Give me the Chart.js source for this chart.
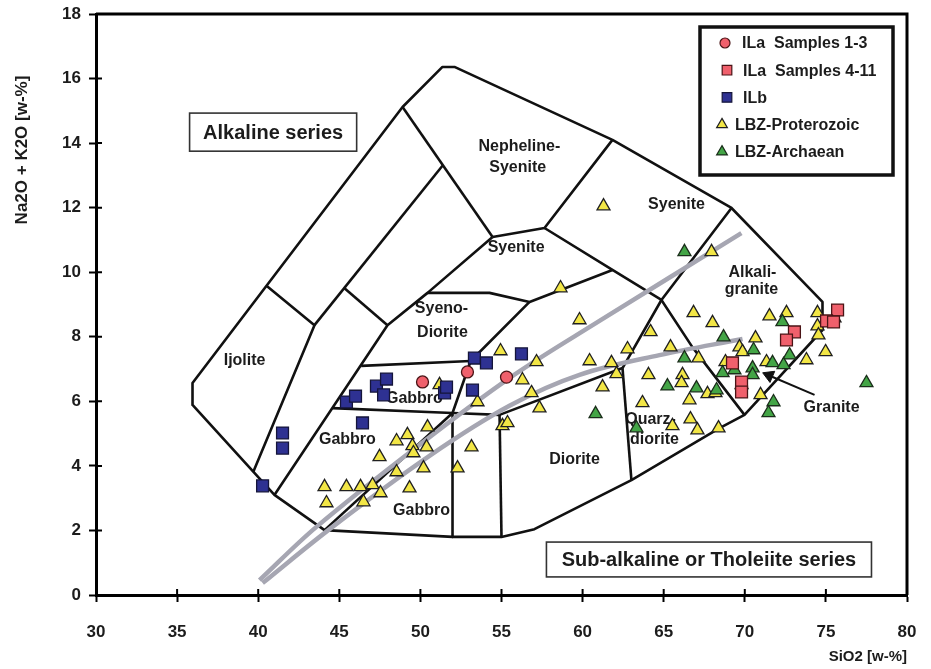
<!DOCTYPE html>
<html>
<head>
<meta charset="utf-8">
<script src="https://cdn.jsdelivr.net/npm/chart.js@4/dist/chart.umd.min.js"></script>
<style>
  html, body { margin: 0; padding: 0; background: #ffffff; }
  #c { display: block; }
</style>
</head>
<body>
<canvas id="c" width="931" height="669"></canvas>
<script>
// ---- Axis ranges / ticks ----
const xRange = [30, 80];
const yRange = [0, 18];
const xStep = 5;
const yStep = 2;

// ---- Sample series (SiO2, Na2O+K2O) ----
const seriesNames = ['ILa  Samples 1-3', 'ILa  Samples 4-11', 'ILb', 'LBZ-Proterozoic', 'LBZ-Archaean'];

const ilaSamples1to3 = [[50.13, 6.60], [52.90, 6.91], [55.31, 6.75]];

const ilaSamples4to11 = [
  [75.72, 8.83], [75.04, 8.49], [75.47, 8.46], [73.06, 8.15],
  [72.57, 7.90], [69.24, 7.19], [69.80, 6.60], [69.80, 6.29]
];

const ilb = [
  [40.27, 3.38], [41.50, 5.02], [41.50, 4.55], [45.44, 5.98], [46.00, 6.16],
  [46.43, 5.33], [47.29, 6.47], [47.91, 6.69], [47.73, 6.20], [51.49, 6.26],
  [51.61, 6.44], [53.21, 6.35], [53.33, 7.34], [54.07, 7.19], [56.23, 7.47]
];

const lbzProterozoic = [
  [44.09, 3.35], [45.44, 3.35], [46.31, 3.35], [47.05, 3.41], [47.54, 3.16],
  [46.49, 2.88], [44.21, 2.85], [49.33, 3.31], [47.48, 4.28], [48.53, 3.81],
  [50.19, 3.93], [48.53, 4.77], [49.20, 4.96], [49.51, 4.62], [49.57, 4.40],
  [50.38, 4.58], [50.44, 5.20], [52.29, 3.93], [53.15, 4.58], [51.18, 6.51],
  [53.52, 5.98], [54.94, 7.56], [55.06, 5.24], [55.37, 5.33], [58.64, 9.51],
  [59.81, 8.52], [60.43, 7.25], [57.16, 7.22], [56.29, 6.66], [56.85, 6.26],
  [57.34, 5.79], [61.29, 12.05], [61.78, 7.19], [62.09, 6.85], [61.23, 6.44],
  [62.77, 7.62], [64.19, 8.15], [64.06, 6.82], [65.42, 7.68], [66.16, 6.82],
  [66.10, 6.57], [67.15, 7.34], [63.69, 5.95], [65.54, 5.24], [66.59, 6.04],
  [66.65, 5.45], [67.08, 5.11], [68.38, 5.17], [67.70, 6.23], [68.19, 6.26],
  [67.95, 10.63], [66.84, 8.74], [68.01, 8.43], [68.81, 7.22], [69.67, 7.68],
  [69.86, 7.53], [70.66, 7.96], [71.52, 8.64], [72.57, 8.74], [71.34, 7.22],
  [70.97, 6.20], [73.80, 7.28], [74.48, 8.74], [74.48, 8.33], [74.54, 8.05],
  [75.53, 8.58], [74.98, 7.53]
];

const lbzArchaean = [
  [66.28, 10.63], [68.69, 7.99], [66.28, 7.34], [69.36, 6.97], [68.63, 6.88],
  [65.23, 6.47], [67.02, 6.41], [68.26, 6.35], [69.80, 6.51], [60.80, 5.61],
  [63.32, 5.17], [72.32, 8.46], [70.54, 7.59], [70.48, 7.03], [70.48, 6.82],
  [72.76, 7.43], [71.71, 7.19], [72.39, 7.13], [71.77, 5.98], [71.46, 5.64],
  [77.50, 6.57]
];

// ---- Classification field boundaries (plutonic TAS) ----
const outerBoundary = [
  [35.95, 6.57], [35.95, 5.89], [41.00, 3.10], [44.09, 2.01], [51.98, 1.80],
  [55.00, 1.80], [57.03, 2.04], [63.01, 3.56], [68.44, 5.17], [69.98, 5.58],
  [74.79, 8.21], [74.79, 9.08], [69.18, 11.99], [61.84, 14.10], [52.10, 16.36],
  [51.36, 16.36], [48.90, 15.12], [35.95, 6.57]
];
const ijoliteEdge = [[40.51, 9.58], [43.47, 8.36], [39.70, 3.82]];
const foidBandLine = [[51.36, 13.30], [43.47, 8.36]];
const foidCrossLine = [[45.32, 9.50], [47.97, 8.36]];
const nephSyeniteLeft = [[48.90, 15.12], [54.45, 11.09]];
const alkGabbroLeft = [[54.45, 11.09], [50.44, 9.36], [47.97, 8.36], [41.00, 3.10]];
const nephSyeniteBase = [[54.45, 11.09], [57.65, 11.37], [61.84, 14.10]];
const syeniteBase = [[57.65, 11.37], [61.84, 10.07], [64.86, 9.14]];
const syenoDioriteTop = [[50.44, 9.36], [54.26, 9.36], [56.73, 9.08], [61.84, 10.07]];
const syenoDioriteRight = [[56.73, 9.08], [53.10, 7.25], [51.98, 5.64], [51.98, 1.80]];
const gabbroTop = [[46.35, 7.10], [53.10, 7.25]];
const gabbroBase = [[44.58, 5.79], [51.98, 5.64], [54.88, 5.58]];
const gabbroDiagonal = [[44.09, 2.01], [51.98, 5.64]];
const dioriteLeft = [[54.88, 5.58], [55.00, 1.80]];
const dioriteTop = [[54.88, 5.58], [62.46, 7.03]];
const quartzDioriteLeft = [[62.46, 7.03], [63.01, 3.56]];
const alkaliGraniteLeft = [[69.18, 11.99], [64.86, 9.14], [62.46, 7.03]];
const graniteLeft = [[64.86, 9.14], [66.77, 7.68], [69.98, 5.58]];
const graniteArrow = [[74.30, 6.20], [71.50, 6.80]];

const fieldLines = [
  outerBoundary, ijoliteEdge, foidBandLine, foidCrossLine, nephSyeniteLeft,
  alkGabbroLeft, nephSyeniteBase, syeniteBase, syenoDioriteTop, syenoDioriteRight,
  gabbroTop, gabbroBase, gabbroDiagonal, dioriteLeft, dioriteTop,
  quartzDioriteLeft, alkaliGraniteLeft, graniteLeft
];

// Alkaline / sub-alkaline dividing curves
const dividerUpper = [[40.08, 0.46], [43.59, 2.11], [49.94, 4.65], [55.49, 6.72], [61.04, 8.49], [69.79, 11.21]];
const dividerLower = [[40.27, 0.37], [44.58, 2.11], [50.56, 4.31], [55.49, 5.86], [59.81, 6.82], [64.74, 7.43], [69.86, 7.93]];

// ---- Field names [text, SiO2, Na2O+K2O] ----
const fieldLabels = [
  ['Ijolite', 39.16, 7.25],
  ['Gabbro', 49.63, 6.07],
  ['Gabbro', 45.50, 4.80],
  ['Gabbro', 50.07, 2.63],
  ['Syeno-', 51.30, 8.86],
  ['Diorite', 51.36, 8.12],
  ['Syenite', 55.90, 10.75],
  ['Nepheline-', 56.10, 13.90],
  ['Syenite', 56.00, 13.23],
  ['Syenite', 65.79, 12.08],
  ['Alkali-', 70.47, 9.98],
  ['granite', 70.41, 9.45],
  ['Diorite', 59.50, 4.18],
  ['Quarz-', 64.19, 5.42],
  ['diorite', 64.43, 4.80],
  ['Granite', 75.35, 5.82]
];

// Series captions [text, xFrom, xTo, yTop, yBottom]
const seriesBoxes = [
  ['Alkaline series', 35.77, 46.07, 14.93, 13.75],
  ['Sub-alkaline or Tholeiite series', 57.77, 77.81, 1.64, 0.56]
];

const FONT = '"Liberation Sans", Arial, Helvetica, sans-serif';
const pts = a => a.map(p => ({ x: p[0], y: p[1] }));

const markerStyles = [
  { pointStyle: 'circle',   radius: 6,   fill: '#f0606c', stroke: '#4a1416' },
  { pointStyle: 'rect',     radius: 8.4, fill: '#f0606c', stroke: '#4a1416' },
  { pointStyle: 'rect',     radius: 8.4, fill: '#2e3192', stroke: '#15153a' },
  { pointStyle: 'triangle', radius: 7.5, fill: '#f2e646', stroke: '#202020' },
  { pointStyle: 'triangle', radius: 7.5, fill: '#43a546', stroke: '#1b2e1b' }
];
const seriesData = [ilaSamples1to3, ilaSamples4to11, ilb, lbzProterozoic, lbzArchaean];

const datasets = [];
// lower order = drawn later (on top)
const seriesOrder = [1, 2, 3, 5, 4];
seriesData.forEach((d, i) => {
  const m = markerStyles[i];
  datasets.push({
    label: seriesNames[i],
    data: pts(d),
    pointStyle: m.pointStyle,
    pointRadius: m.radius,
    pointBackgroundColor: m.fill,
    pointBorderColor: m.stroke,
    pointBorderWidth: 1.3,
    showLine: false,
    order: seriesOrder[i]
  });
});
[dividerUpper, dividerLower].forEach(d => datasets.push({
  data: pts(d), showLine: true, borderColor: '#a6a6b2', borderWidth: 4.5,
  pointRadius: 0, tension: 0.35, fill: false, borderCapStyle: 'butt', order: 10
}));
fieldLines.forEach(d => datasets.push({
  data: pts(d), showLine: true, borderColor: '#111111', borderWidth: 2.6,
  pointRadius: 0, tension: 0, fill: false, borderJoinStyle: 'round', order: 20
}));
datasets.push({
  data: pts(graniteArrow), showLine: true, borderColor: '#111111', borderWidth: 2,
  pointRadius: [0, 7], pointStyle: 'triangle', pointRotation: -67,
  pointBackgroundColor: '#111111', pointBorderColor: '#111111', pointBorderWidth: 1,
  fill: false, order: 20
});

const decor = {
  id: 'decor',
  beforeDatasetsDraw(chart) {
    const { ctx, scales: { x, y } } = chart;
    ctx.save();
    ctx.fillStyle = '#1c1c1c';
    ctx.font = 'bold 16px ' + FONT;
    ctx.textAlign = 'center';
    ctx.textBaseline = 'middle';
    fieldLabels.forEach(([t, vx, vy]) => ctx.fillText(t, x.getPixelForValue(vx), y.getPixelForValue(vy)));
    ctx.restore();
  },
  afterDatasetsDraw(chart) {
    const { ctx, chartArea: ca, scales: { x, y } } = chart;
    ctx.save();

    // caption boxes
    seriesBoxes.forEach(([t, x0, x1, y0, y1]) => {
      const l = x.getPixelForValue(x0), r = x.getPixelForValue(x1);
      const tp = y.getPixelForValue(y0), b = y.getPixelForValue(y1);
      ctx.fillStyle = '#ffffff';
      ctx.fillRect(l, tp, r - l, b - tp);
      ctx.strokeStyle = '#333333';
      ctx.lineWidth = 1.6;
      ctx.strokeRect(l, tp, r - l, b - tp);
      ctx.fillStyle = '#1c1c1c';
      ctx.font = 'bold 20px ' + FONT;
      ctx.textAlign = 'center';
      ctx.textBaseline = 'middle';
      ctx.fillText(t, (l + r) / 2, (tp + b) / 2 + 1);
    });

    // legend
    const lx = ca.right - 207, ly = ca.top + 13, lw = 193, lh = 148;
    ctx.fillStyle = '#ffffff';
    ctx.fillRect(lx, ly, lw, lh);
    ctx.strokeStyle = '#111111';
    ctx.lineWidth = 3.5;
    ctx.strokeRect(lx, ly, lw, lh);
    const rows = [
      { mx: 25, tx: 42 }, { mx: 27, tx: 43 }, { mx: 27, tx: 43 }, { mx: 22, tx: 35 }, { mx: 22, tx: 35 }
    ];
    ctx.font = 'bold 16px ' + FONT;
    ctx.textAlign = 'left';
    ctx.textBaseline = 'middle';
    seriesNames.forEach((name, i) => {
      const m = markerStyles[i];
      const cy = ly + 16 + i * 27.2;
      ctx.fillStyle = m.fill;
      ctx.strokeStyle = m.stroke;
      ctx.lineWidth = 1.2;
      Chart.helpers.drawPoint(ctx, {
        pointStyle: m.pointStyle,
        radius: m.pointStyle === 'triangle' ? 6.2 : (m.pointStyle === 'rect' ? 6.8 : 5),
        rotation: 0, borderWidth: 1.2
      }, lx + rows[i].mx, cy);
      ctx.fillStyle = '#1c1c1c';
      ctx.fillText(name, lx + rows[i].tx, cy + 1);
    });

    ctx.restore();
  },
  afterDraw(chart) {
    const { ctx, chartArea: ca, scales: { x, y } } = chart;
    ctx.save();
    ctx.strokeStyle = '#000000';
    // frame top and right
    ctx.lineWidth = 3;
    ctx.beginPath();
    ctx.moveTo(ca.left, ca.top);
    ctx.lineTo(ca.right, ca.top);
    ctx.lineTo(ca.right, ca.bottom);
    ctx.stroke();
    // inner tick stubs
    ctx.lineWidth = 2;
    ctx.beginPath();
    x.ticks.forEach(t => {
      const px = x.getPixelForValue(t.value);
      ctx.moveTo(px, ca.bottom);
      ctx.lineTo(px, ca.bottom - 6);
    });
    y.ticks.forEach(t => {
      const py = y.getPixelForValue(t.value);
      ctx.moveTo(ca.left, py);
      ctx.lineTo(ca.left + 6, py);
    });
    ctx.stroke();
    // y axis title
    ctx.translate(22, 150);
    ctx.rotate(-Math.PI / 2);
    ctx.fillStyle = '#1c1c1c';
    ctx.font = 'bold 17px ' + FONT;
    ctx.textAlign = 'center';
    ctx.textBaseline = 'middle';
    ctx.fillText('Na2O + K2O [w-%]', 0, 0);
    ctx.restore();
  }
};

new Chart(document.getElementById('c'), {
  type: 'scatter',
  data: { datasets },
  plugins: [decor],
  options: {
    responsive: false,
    animation: false,
    devicePixelRatio: 1,
    layout: { padding: { left: 0, right: 24, top: 14, bottom: 0 } },
    plugins: { legend: { display: false }, tooltip: { enabled: false } },
    scales: {
      x: {
        type: 'linear', min: xRange[0], max: xRange[1],
        ticks: { stepSize: xStep, color: '#1c1c1c', font: { family: FONT, size: 17, weight: 'bold' }, padding: 20 },
        grid: { drawOnChartArea: false, drawTicks: true, tickLength: 7, tickWidth: 2, color: '#000' },
        border: { display: true, width: 3, color: '#000' },
        title: { display: true, text: 'SiO2 [w-%]', align: 'end', color: '#1c1c1c',
                 font: { family: FONT, size: 15, weight: 'bold' }, padding: { top: 0, bottom: 3 } },
        afterFit(s) { s.height = 74; s.paddingLeft = 0; s.paddingRight = 0; }
      },
      y: {
        type: 'linear', min: yRange[0], max: yRange[1],
        ticks: { stepSize: yStep, color: '#1c1c1c', font: { family: FONT, size: 17, weight: 'bold' }, padding: 8 },
        grid: { drawOnChartArea: false, drawTicks: true, tickLength: 7, tickWidth: 2, color: '#000' },
        border: { display: true, width: 3, color: '#000' },
        afterFit(s) { s.width = 96; s.paddingTop = 0; s.paddingBottom = 0; }
      }
    }
  }
});
</script>
</body>
</html>
